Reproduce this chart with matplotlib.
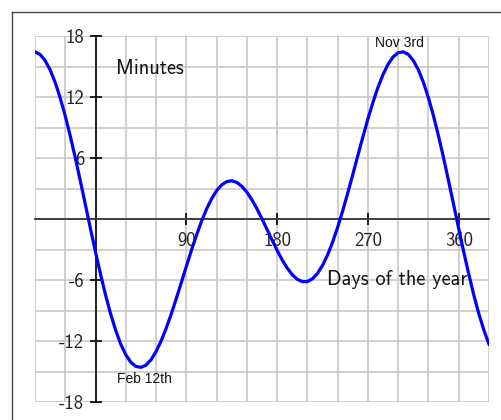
import matplotlib
matplotlib.use("Agg")
from matplotlib import pyplot as plt
from matplotlib.lines import Line2D

# equation of time, every 5 days (minutes, sundial minus clock)
days = list(range(-60, 391, 5))
minutes = [16.44, 16.19, 15.59, 14.67, 13.43, 11.91, 10.13, 8.14, 5.99, 3.71,
           1.38, -0.96, -3.26, -5.45, -7.50, -9.35, -10.96, -12.31, -13.36,
           -14.09, -14.50, -14.59, -14.37, -13.84, -13.04, -12.00, -10.76,
           -9.36, -7.84, -6.26, -4.66, -3.09, -1.61, -0.24, 0.97, 1.98, 2.79,
           3.35, 3.68, 3.76, 3.60, 3.22, 2.64, 1.89, 1.00, 0.01, -1.03, -2.07,
           -3.09, -4.02, -4.83, -5.48, -5.93, -6.16, -6.15, -5.88, -5.35,
           -4.56, -3.53, -2.27, -0.81, 0.81, 2.56, 4.38, 6.24, 8.08, 9.84,
           11.49, 12.96, 14.22, 15.23, 15.95, 16.36, 16.44, 16.19, 15.59,
           14.67, 13.43, 11.91, 10.13, 8.14, 5.99, 3.71, 1.38, -0.96, -3.26,
           -5.45, -7.50, -9.35, -10.96, -12.31]

x_ticks = [90, 180, 270, 360]
x_tick_labels = ['90', '180', '270', '360']
y_ticks = [-18, -12, -6, 6, 12, 18]
y_tick_labels = ['-18', '-12', '-6', '6', '12', '18']
x_grid = list(range(-60, 391, 30))
y_grid = list(range(-18, 19, 3))

fig = plt.figure(figsize=(5.01, 4.2), dpi=100)
W, H = 501, 420
ax = fig.add_axes([35 / W, 1 - 402 / H, (489 - 35) / W, (402 - 36) / H])

ax.plot(days, minutes, color='#0000ff', lw=2.3, zorder=3,
        solid_joinstyle='round')

ax.set_xlim(-60, 390)
ax.set_ylim(-18, 18)

ax.set_xticks(x_grid, minor=True)
ax.set_yticks(y_grid, minor=True)
ax.set_xticks(x_ticks)
ax.set_xticklabels(x_tick_labels)
ax.set_yticks(y_ticks)
ax.set_yticklabels(y_tick_labels)
ax.grid(True, which='both', color='#c8c8c8', lw=1.2, zorder=0)
ax.set_axisbelow(True)

for s in ['top', 'right']:
    ax.spines[s].set_visible(False)
ax.spines['left'].set_position(('data', 0))
ax.spines['bottom'].set_position(('data', 0))
ax.spines['left'].set_color('#111111')
ax.spines['bottom'].set_color('#333333')
ax.spines['left'].set_linewidth(1.3)
ax.spines['bottom'].set_linewidth(1.3)

ax.tick_params(which='minor', length=0)
ax.tick_params(which='major', direction='inout', length=8.6, width=1.3,
               color='#111111')
ax.tick_params(axis='y', pad=4)
ax.tick_params(axis='x', pad=5)
for lab in ax.get_xticklabels() + ax.get_yticklabels():
    lab.set_fontfamily('cmss10')
    lab.set_fontsize(13.5)
    lab.set_color('#222222')

ax.text(20, 14.25, 'Minutes', family='cmss10', fontsize=14.7, color='#111111',
        va='baseline')
ax.text(229, -6.5, 'Days of the year', family='cmss10', fontsize=14.7,
        color='#111111', va='baseline')
ax.text(301, 16.9, 'Nov 3rd', family='Liberation Sans', fontsize=10,
        ha='center', va='baseline', color='#111111')
ax.text(48.5, -16.1, 'Feb 12th', family='Liberation Sans', fontsize=10,
        ha='center', va='baseline', color='#111111')

# outer frame (left and top edges only)
fig.add_artist(Line2D([11.5 / W, 11.5 / W], [0, 1 - 11.5 / H],
                      transform=fig.transFigure, color='#444444', lw=1))
fig.add_artist(Line2D([11.5 / W, 1], [1 - 11.5 / H, 1 - 11.5 / H],
                      transform=fig.transFigure, color='#444444', lw=1))

plt.savefig('out.png', dpi=100)
